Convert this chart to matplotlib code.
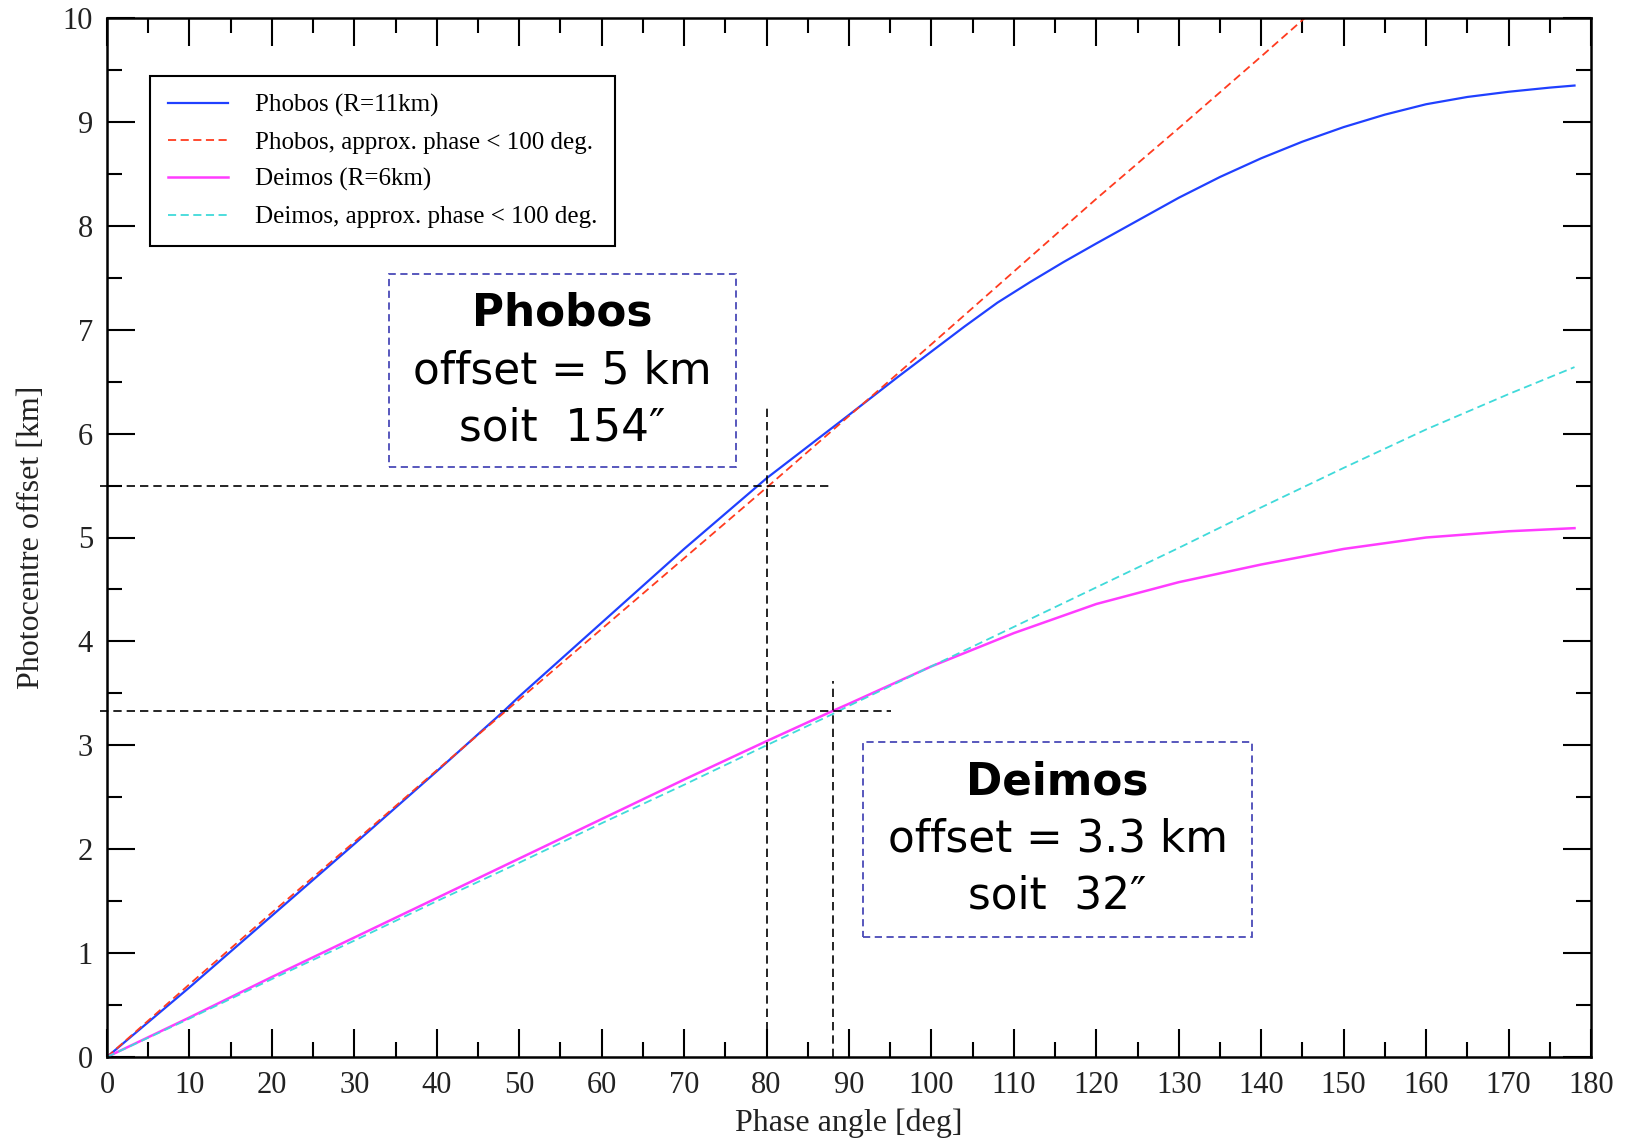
# -*- coding: utf-8 -*-
import numpy as np
import matplotlib
matplotlib.use('Agg')
import matplotlib.pyplot as plt
from matplotlib.patches import Rectangle

### data
phase = [0, 10, 20, 30, 40, 48, 50, 60, 70, 80, 90, 96, 100, 104, 108, 112,
         116, 120, 125, 130, 135, 140, 145, 150, 155, 160, 165, 170, 175, 178]
phobos = [0.0, 0.67, 1.36, 2.05, 2.75, 3.32, 3.47, 4.18, 4.89, 5.57, 6.18,
          6.55, 6.79, 7.03, 7.26, 7.46, 7.65, 7.83, 8.05, 8.27, 8.47, 8.65,
          8.81, 8.95, 9.07, 9.17, 9.24, 9.29, 9.33, 9.35]

phase_approx_p = [0, 10, 20, 30, 40, 50, 60, 70, 80, 90, 100, 110, 120,
                  130, 140, 146]
phobos_approx = [0.0, 0.70, 1.39, 2.07, 2.76, 3.44, 4.12, 4.80, 5.48, 6.17,
                 6.86, 7.56, 8.26, 8.94, 9.63, 10.05]

phase_d = [0, 10, 20, 30, 40, 50, 60, 70, 80, 88, 90, 100, 110, 120, 130,
           140, 150, 160, 170, 178]
deimos = [0.0, 0.38, 0.77, 1.15, 1.53, 1.91, 2.29, 2.67, 3.04, 3.33, 3.40,
          3.76, 4.08, 4.36, 4.57, 4.74, 4.89, 5.00, 5.06, 5.09]
deimos_approx = [0.0, 0.37, 0.75, 1.12, 1.50, 1.87, 2.25, 2.62, 3.00, 3.30,
                 3.38, 3.76, 4.14, 4.52, 4.90, 5.29, 5.67, 6.04, 6.38, 6.64]

labels = ['Phobos (R=11km)', 'Phobos, approx. phase < 100 deg.',
          'Deimos (R=6km)', 'Deimos, approx. phase < 100 deg.']

### guide lines (km, deg)
h_lines = [(5.5, -0.85, 87.6), (3.33, -0.85, 95.1)]
v_lines = [(80, 0, 6.26), (88, 0, 3.62)]

### annotation boxes: x0, x1, y0, y1, x centre and the text lines
boxes = [
    (34.2, 76.3, 5.68, 7.54, 55.25,
     [('Phobos', 7.16, 'bold'), ('offset = 5 km', 6.60, 'normal'),
      ('soit  154\u2033', 6.05, 'normal')]),
    (91.7, 138.9, 1.155, 3.03, 115.3,
     [('Deimos', 2.65, 'bold'), ('offset = 3.3 km', 2.10, 'normal'),
      ('soit  32\u2033', 1.55, 'normal')]),
]

serif = 'Liberation Serif'

fig = plt.figure(figsize=(16.25, 11.44), dpi=100)
ax = fig.add_axes([107/1625, 1 - 1057/1144, 1484/1625, 1039/1144])

ax.plot(phase, phobos, '-', c='#2040ff', lw=1.6, label=labels[0])
ax.plot(phase_approx_p, phobos_approx, c='#ff3b1f', lw=1.3,
        linestyle=(0, (4.5, 2.5)), label=labels[1])
ax.plot(phase_d, deimos, '-', c='#ff3cff', lw=1.8, label=labels[2])
ax.plot(phase_d, deimos_approx, c='#40dada', lw=1.3,
        linestyle=(0, (4.5, 2.5)), label=labels[3])

for y, x0, x1 in h_lines:
    ax.plot([x0, x1], [y, y], c='black', lw=1.2, linestyle=(0, (5, 3)),
            clip_on=False)
for x, y0, y1 in v_lines:
    ax.plot([x, x], [y0, y1], c='black', lw=1.2, linestyle=(0, (5, 3)))

for x0, x1, y0, y1, xc, lines in boxes:
    ax.add_patch(Rectangle((x0, y0), x1 - x0, y1 - y0, fill=False,
                           ec='#4a4ab8', lw=1.3, linestyle=(0, (4, 2.5))))
    for txt, yy, fw in lines:
        ax.text(xc, yy, txt, ha='center', va='center', fontsize=31.5,
                fontweight=fw, family='DejaVu Sans', color='black')

ax.set_xlim(0, 180)
ax.set_ylim(0, 10)
ax.set_xticks(np.arange(0, 181, 10))
ax.set_xticks(np.arange(0, 181, 5), minor=True)
ax.set_yticks(np.arange(0, 11, 1))
ax.set_yticks(np.arange(0, 10.1, 0.5), minor=True)
ax.tick_params(which='both', direction='in', top=True, right=True,
               width=1.5, colors='black', labelcolor='#222222')
ax.tick_params(which='major', length=20, pad=10, labelsize=22)
ax.tick_params(which='minor', length=11)
for lab in ax.get_xticklabels() + ax.get_yticklabels():
    lab.set_family(serif)
for sp in ax.spines.values():
    sp.set_linewidth(1.8)

ax.set_xlabel('Phase angle [deg]', family=serif, fontsize=23,
              color='#222222', labelpad=6)
ax.set_ylabel('Photocentre offset [km]', family=serif, fontsize=23,
              color='#222222', labelpad=12)

leg = ax.legend(loc='upper left', bbox_to_anchor=(0.029, 0.944),
                borderaxespad=0, prop={'family': serif, 'size': 18},
                fancybox=False, framealpha=1, edgecolor='black',
                handlelength=2.4, handletextpad=1.1, labelspacing=0.58,
                borderpad=0.7)
leg.get_frame().set_linewidth(1.5)

fig.savefig('out.png', dpi=100)
